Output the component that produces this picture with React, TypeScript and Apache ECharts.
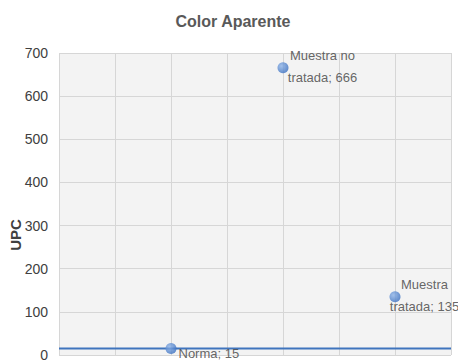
import React, { useEffect, useRef } from "react";
import * as echarts from "echarts";

const title = "Color Aparente";
const yAxisName = "UPC";
const pointNames = ["Norma", "Muestra no\ntratada", "Muestra\ntratada"];
const pointX = [2, 4, 6];
const pointY = [15, 666, 135];
const normaValue = 15;
const xRange = [0, 7];

const FONT = "'Liberation Sans', Arial, sans-serif";

export default function App() {
  const ref = useRef<HTMLDivElement>(null);
  useEffect(() => {
    if (!ref.current) return;
    const chart = echarts.init(ref.current, undefined, { renderer: "svg" });
    const offsets = [[-3, 5], [29, -1], [19, -1]];
    const scatterData = pointNames.map((n, i) => ({
      value: [pointX[i], pointY[i]],
      name: n,
      label: {
        show: true,
        position: "right",
        align: i === 0 ? "left" : "center",
        offset: offsets[i],
        formatter: `${n}; ${pointY[i]}`,
      },
    }));
    chart.setOption({
      animation: false,
      backgroundColor: "#ffffff",
      title: {
        text: title,
        left: "center",
        top: 8,
        textStyle: { fontFamily: FONT, fontSize: 16, fontWeight: "bold", color: "#595959" },
      },
      graphic: [
        {
          type: "text",
          x: 15,
          y: 235,
          rotation: Math.PI / 2,
          style: {
            text: yAxisName,
            fontFamily: FONT,
            fontSize: 15,
            fontWeight: "bold",
            fill: "#404040",
            align: "center",
            verticalAlign: "middle",
          },
        },
      ],
      grid: {
        left: 59,
        right: 15,
        top: 53,
        bottom: 5,
        show: true,
        backgroundColor: "#f3f3f3",
        borderWidth: 0,
        outerBoundsMode: "none",
        containLabel: false,
      },
      xAxis: {
        type: "value",
        min: xRange[0],
        max: xRange[1],
        interval: 1,
        axisLabel: { show: false },
        axisLine: { show: false },
        axisTick: { show: false },
        splitLine: { show: true, lineStyle: { color: "#d6d6d6", width: 1 } },
      },
      yAxis: {
        type: "value",
        min: 0,
        max: 700,
        interval: 100,
        axisLabel: { fontFamily: FONT, fontSize: 14, color: "#404040", margin: 11 },
        axisLine: { show: false },
        axisTick: { show: false },
        splitLine: { show: true, lineStyle: { color: "#d6d6d6", width: 1 } },
      },
      series: [
        {
          type: "line",
          data: [[xRange[0], normaValue], [xRange[1], normaValue]],
          showSymbol: false,
          symbol: "none",
          lineStyle: { color: "#3f74bd", width: 2 },
          z: 2,
        },
        {
          type: "scatter",
          data: scatterData,
          symbolSize: 11,
          itemStyle: {
            color: new echarts.graphic.RadialGradient(0.35, 0.35, 0.7, [
              { offset: 0, color: "#8db3e8" },
              { offset: 1, color: "#3a6fc0" },
            ]),
          },
          label: {
            fontFamily: FONT,
            fontSize: 13,
            color: "#404040",
            lineHeight: 22,
          },
          z: 3,
        },
      ],
    });
    return () => chart.dispose();
  }, []);
  return <div ref={ref} style={{ width: 466, height: 360, marginLeft: -8, marginTop: -8 }} />;
}
